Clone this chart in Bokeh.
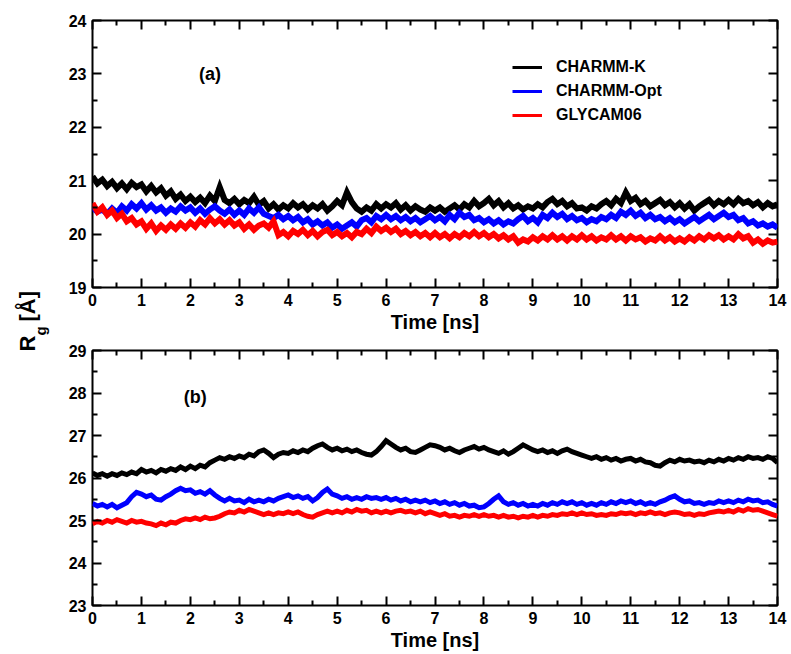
import numpy as np
from bokeh.plotting import figure
from bokeh.layouts import row, column
from bokeh.models import (LinearAxis, FixedTicker, Legend, LegendItem, Range1d,
                          ColumnDataSource, CustomLabelingPolicy)
from bokeh.core.properties import value
from bokeh.embed import file_html
from bokeh.resources import INLINE

# ---------------- data (0.1 ns steps) ----------------
series_names = ["CHARMM-K", "CHARMM-Opt", "GLYCAM06"]
series_colors = ["#000000", "#0000ff", "#ff0000"]
time_ns = [round(i * 0.1, 1) for i in range(141)]

a_charmm_k = [
    21.08, 20.95, 21.02, 20.90, 20.98, 20.86, 20.95, 20.84, 20.96, 20.88,
    20.93, 20.80, 20.90, 20.78, 20.86, 20.72, 20.80, 20.66, 20.74, 20.62,
    20.70, 20.60, 20.68, 20.58, 20.72, 20.62, 20.88, 20.64, 20.58, 20.66,
    20.56, 20.64, 20.58, 20.70, 20.55, 20.62, 20.48, 20.56, 20.46, 20.54,
    20.48, 20.58, 20.50, 20.56, 20.46, 20.54, 20.48, 20.56, 20.44, 20.52,
    20.62, 20.54, 20.78, 20.60, 20.48, 20.42, 20.50, 20.44, 20.56, 20.48,
    20.56, 20.50, 20.58, 20.46, 20.54, 20.44, 20.52, 20.46, 20.42, 20.50,
    20.44, 20.50, 20.42, 20.48, 20.54, 20.46, 20.56, 20.50, 20.62, 20.52,
    20.58, 20.66, 20.54, 20.62, 20.50, 20.58, 20.48, 20.54, 20.46, 20.52,
    20.48, 20.56, 20.50, 20.60, 20.66, 20.56, 20.62, 20.52, 20.58, 20.48,
    20.50, 20.44, 20.52, 20.48, 20.56, 20.62, 20.54, 20.66, 20.58, 20.78,
    20.62, 20.68, 20.56, 20.62, 20.52, 20.58, 20.64, 20.54, 20.60, 20.50,
    20.58, 20.48, 20.56, 20.44, 20.52, 20.58, 20.64, 20.54, 20.62, 20.56,
    20.64, 20.56, 20.66, 20.58, 20.62, 20.54, 20.60, 20.50, 20.58, 20.52,
    20.56]
a_charmm_opt = [
    20.50, 20.42, 20.46, 20.38, 20.48, 20.40, 20.52, 20.44, 20.56, 20.48,
    20.58, 20.46, 20.54, 20.44, 20.50, 20.40, 20.48, 20.42, 20.52, 20.44,
    20.50, 20.40, 20.48, 20.38, 20.46, 20.52, 20.44, 20.38, 20.46, 20.36,
    20.44, 20.36, 20.48, 20.40, 20.50, 20.38, 20.34, 20.30, 20.36, 20.28,
    20.34, 20.26, 20.32, 20.22, 20.28, 20.18, 20.24, 20.16, 20.22, 20.12,
    20.18, 20.10, 20.16, 20.22, 20.14, 20.26, 20.30, 20.22, 20.34, 20.28,
    20.36, 20.28, 20.34, 20.26, 20.32, 20.24, 20.30, 20.22, 20.28, 20.34,
    20.26, 20.32, 20.24, 20.36, 20.28, 20.40, 20.32, 20.36, 20.26, 20.30,
    20.22, 20.28, 20.20, 20.26, 20.18, 20.24, 20.20, 20.28, 20.34, 20.24,
    20.30, 20.22, 20.36, 20.30, 20.40, 20.32, 20.38, 20.28, 20.34, 20.26,
    20.30, 20.22, 20.28, 20.24, 20.32, 20.28, 20.36, 20.30, 20.42, 20.36,
    20.44, 20.34, 20.40, 20.30, 20.36, 20.28, 20.32, 20.24, 20.30, 20.22,
    20.28, 20.20, 20.26, 20.32, 20.24, 20.30, 20.36, 20.28, 20.34, 20.40,
    20.32, 20.36, 20.26, 20.30, 20.20, 20.24, 20.16, 20.20, 20.14, 20.18,
    20.12]
a_glycam06 = [
    20.58, 20.42, 20.50, 20.36, 20.44, 20.30, 20.38, 20.24, 20.30, 20.18,
    20.24, 20.10, 20.20, 20.06, 20.16, 20.08, 20.18, 20.10, 20.20, 20.12,
    20.22, 20.14, 20.26, 20.18, 20.30, 20.20, 20.28, 20.18, 20.26, 20.16,
    20.22, 20.10, 20.18, 20.08, 20.16, 20.20, 20.12, 20.24, 19.98, 20.04,
    19.96, 20.06, 20.00, 20.08, 19.98, 20.06, 19.96, 20.04, 20.08, 19.98,
    20.04, 19.96, 20.02, 19.94, 20.04, 20.00, 20.10, 20.02, 20.14, 20.06,
    20.12, 20.04, 20.10, 20.00, 20.06, 19.98, 20.04, 19.96, 20.02, 19.94,
    20.02, 19.94, 20.00, 19.92, 20.00, 19.94, 20.02, 19.96, 20.04, 19.96,
    20.02, 19.94, 20.00, 19.92, 19.98, 19.90, 19.96, 19.84, 19.90, 19.86,
    19.94, 19.88, 19.96, 19.90, 19.98, 19.90, 19.96, 19.88, 19.96, 19.90,
    19.98, 19.90, 19.96, 19.88, 19.94, 19.90, 19.98, 19.90, 19.96, 19.88,
    19.96, 19.90, 19.94, 19.86, 19.92, 19.88, 19.96, 19.88, 19.94, 19.86,
    19.92, 19.86, 19.94, 19.88, 19.96, 19.90, 19.98, 19.92, 19.98, 19.90,
    19.96, 19.90, 20.00, 19.92, 19.96, 19.84, 19.90, 19.82, 19.88, 19.84,
    19.86]

b_charmm_k = [
    26.12, 26.06, 26.10, 26.04, 26.10, 26.06, 26.12, 26.08, 26.14, 26.10,
    26.20, 26.14, 26.18, 26.12, 26.20, 26.16, 26.22, 26.18, 26.26, 26.20,
    26.28, 26.22, 26.30, 26.26, 26.36, 26.42, 26.48, 26.44, 26.50, 26.46,
    26.52, 26.48, 26.56, 26.52, 26.62, 26.66, 26.58, 26.48, 26.56, 26.60,
    26.58, 26.64, 26.60, 26.66, 26.62, 26.70, 26.76, 26.80, 26.72, 26.66,
    26.70, 26.64, 26.68, 26.62, 26.66, 26.60, 26.56, 26.54, 26.62, 26.74,
    26.88, 26.80, 26.72, 26.66, 26.70, 26.62, 26.60, 26.66, 26.72, 26.78,
    26.76, 26.72, 26.66, 26.70, 26.64, 26.60, 26.66, 26.70, 26.74, 26.68,
    26.72, 26.66, 26.62, 26.58, 26.64, 26.56, 26.62, 26.70, 26.78, 26.72,
    26.66, 26.62, 26.66, 26.60, 26.64, 26.58, 26.64, 26.68, 26.62, 26.58,
    26.54, 26.50, 26.46, 26.50, 26.44, 26.48, 26.42, 26.46, 26.40, 26.44,
    26.46, 26.40, 26.44, 26.38, 26.36, 26.30, 26.28, 26.36, 26.42, 26.38,
    26.44, 26.40, 26.42, 26.38, 26.40, 26.36, 26.42, 26.38, 26.44, 26.40,
    26.46, 26.42, 26.48, 26.44, 26.50, 26.46, 26.48, 26.44, 26.50, 26.46,
    26.36]
b_charmm_opt = [
    25.40, 25.34, 25.38, 25.32, 25.38, 25.30, 25.36, 25.42, 25.56, 25.66,
    25.62, 25.56, 25.60, 25.50, 25.48, 25.56, 25.62, 25.70, 25.76, 25.70,
    25.72, 25.64, 25.68, 25.62, 25.70, 25.60, 25.52, 25.46, 25.52, 25.46,
    25.48, 25.42, 25.50, 25.44, 25.48, 25.44, 25.50, 25.46, 25.52, 25.56,
    25.60, 25.54, 25.58, 25.52, 25.56, 25.46, 25.54, 25.66, 25.74, 25.62,
    25.58, 25.52, 25.56, 25.50, 25.54, 25.50, 25.56, 25.52, 25.54, 25.50,
    25.54, 25.48, 25.52, 25.46, 25.50, 25.44, 25.48, 25.44, 25.48, 25.42,
    25.46, 25.40, 25.44, 25.38, 25.42, 25.36, 25.40, 25.34, 25.36, 25.30,
    25.32, 25.40, 25.50, 25.58, 25.44, 25.38, 25.42, 25.36, 25.40, 25.34,
    25.38, 25.34, 25.40, 25.36, 25.42, 25.38, 25.44, 25.40, 25.44, 25.38,
    25.42, 25.36, 25.40, 25.36, 25.42, 25.38, 25.44, 25.40, 25.46, 25.42,
    25.46, 25.40, 25.44, 25.38, 25.42, 25.38, 25.44, 25.48, 25.54, 25.58,
    25.50, 25.44, 25.46, 25.40, 25.42, 25.38, 25.42, 25.40, 25.46, 25.42,
    25.46, 25.42, 25.48, 25.44, 25.50, 25.46, 25.48, 25.42, 25.44, 25.38,
    25.34]
b_glycam06 = [
    24.92, 24.98, 24.94, 25.00, 24.96, 25.02, 24.98, 24.94, 25.00, 24.96,
    24.98, 24.94, 24.92, 24.88, 24.94, 24.90, 24.96, 24.94, 25.00, 25.04,
    25.02, 25.06, 25.02, 25.08, 25.04, 25.06, 25.10, 25.16, 25.20, 25.18,
    25.24, 25.20, 25.26, 25.22, 25.18, 25.14, 25.18, 25.14, 25.18, 25.16,
    25.20, 25.16, 25.20, 25.14, 25.10, 25.08, 25.14, 25.18, 25.22, 25.18,
    25.22, 25.18, 25.24, 25.20, 25.26, 25.22, 25.24, 25.18, 25.22, 25.18,
    25.22, 25.18, 25.22, 25.24, 25.20, 25.22, 25.18, 25.22, 25.16, 25.20,
    25.16, 25.12, 25.16, 25.10, 25.12, 25.08, 25.12, 25.10, 25.14, 25.10,
    25.14, 25.10, 25.12, 25.08, 25.12, 25.08, 25.10, 25.06, 25.10, 25.08,
    25.12, 25.08, 25.12, 25.10, 25.14, 25.12, 25.16, 25.14, 25.18, 25.14,
    25.18, 25.14, 25.16, 25.12, 25.14, 25.12, 25.16, 25.14, 25.18, 25.16,
    25.18, 25.14, 25.18, 25.16, 25.20, 25.16, 25.18, 25.14, 25.18, 25.20,
    25.18, 25.14, 25.16, 25.12, 25.16, 25.14, 25.18, 25.20, 25.22, 25.20,
    25.24, 25.20, 25.26, 25.22, 25.28, 25.24, 25.26, 25.22, 25.18, 25.14,
    25.10]

x_ticks = list(range(0, 15))
a_y_ticks = [19, 20, 21, 22, 23, 24]
b_y_ticks = [23, 24, 25, 26, 27, 28, 29]
x_label = "Time [ns]"
panel_labels = ["(a)", "(b)"]

FONT = "Liberation Sans"

hide_all = CustomLabelingPolicy(code="""
for (const i of Array.from(indices)) { indices.unset(i) }
return indices
""")


def halves(lo, hi):
    return [lo + 0.5 + k for k in range(int(hi - lo))]


def style_axis(ax, ticks, minor, show_labels, size="16px"):
    ax.ticker = FixedTicker(ticks=ticks, minor_ticks=minor)
    ax.axis_line_color = None
    ax.major_tick_in = 9
    ax.major_tick_out = 0
    ax.minor_tick_in = 5
    ax.minor_tick_out = 0
    ax.major_tick_line_width = 2
    ax.minor_tick_line_width = 2
    ax.major_tick_line_color = "black"
    ax.minor_tick_line_color = "black"
    ax.major_label_text_font = FONT
    ax.major_label_text_font_style = "bold"
    ax.major_label_text_color = "black"
    ax.major_label_text_font_size = size
    if not show_labels:
        ax.major_label_policy = hide_all
        ax.major_label_standoff = 0


def make_panel(ys, yr, yticks, label, label_pos, top_border, bottom_border, frame_h, lw):
    p = figure(frame_width=685, frame_height=frame_h,
               min_border_left=37, min_border_right=14,
               min_border_top=top_border, min_border_bottom=bottom_border,
               x_range=Range1d(0, 14), y_range=Range1d(*yr),
               output_backend="svg", toolbar_location=None,
               x_axis_location=None, y_axis_location=None)
    p.grid.visible = False
    p.outline_line_color = "black"
    p.outline_line_width = 2
    p.background_fill_color = "white"
    p.border_fill_color = "white"

    xmin = halves(0, 14)
    ymin = halves(yr[0], yr[1])
    xb = LinearAxis()
    style_axis(xb, x_ticks, xmin, True)
    xb.major_label_standoff = 6
    xb.axis_label = x_label
    xb.axis_label_text_font = FONT
    xb.axis_label_text_font_style = "bold"
    xb.axis_label_text_font_size = "20px"
    xb.axis_label_text_color = "black"
    xb.axis_label_standoff = 2
    p.add_layout(xb, "below")
    xt = LinearAxis()
    style_axis(xt, x_ticks, xmin, False)
    p.add_layout(xt, "above")
    yl = LinearAxis()
    style_axis(yl, yticks, ymin, True)
    yl.major_label_standoff = 6
    p.add_layout(yl, "left")
    yrr = LinearAxis()
    style_axis(yrr, yticks, ymin, False)
    p.add_layout(yrr, "right")

    for name, color, yv in zip(series_names, series_colors, ys):
        src = ColumnDataSource(dict(t=time_ns, r=yv))
        p.line("t", "r", source=src, line_color=color, line_width=lw,
               line_join="miter")

    p.text(x=[label_pos[0]], y=[label_pos[1]], text=[label],
           text_font=value(FONT), text_font_style="bold",
           text_font_size="18px", text_align="center",
           text_baseline="middle", text_color="black")
    return p


pa = make_panel([a_charmm_k, a_charmm_opt, a_glycam06], (19, 24), a_y_ticks,
                panel_labels[0], (2.4, 23.0), 20, 48, 267, 6)
pb = make_panel([b_charmm_k, b_charmm_opt, b_glycam06], (23, 29), b_y_ticks,
                panel_labels[1], (2.1, 27.9), 13, 51, 255, 5)

# legend swatches: thin-line proxies kept off-frame (clipped), only used for the legend
proxy_x = [-10, -9]
proxy_y = [0, 0]
leg_r = [pa.line(x=proxy_x, y=proxy_y, line_color=c, line_width=3) for c in series_colors]
legend = Legend(items=[LegendItem(label=n, renderers=[r]) for n, r in zip(series_names, leg_r)],
                location=(420, 160), orientation="vertical",
                border_line_color=None, background_fill_alpha=0,
                padding=0, spacing=0, margin=0,
                glyph_width=30, glyph_height=24, label_height=24,
                label_standoff=14,
                label_text_font=FONT, label_text_font_style="bold",
                label_text_font_size="16px", label_text_color="black")
pa.add_layout(legend, "center")

# left strip carrying the shared y-axis title  R_g [Å]
strip = figure(width=55, height=654, x_range=Range1d(0, 55), y_range=Range1d(0, 654),
               output_backend="svg", toolbar_location=None,
               x_axis_location=None, y_axis_location=None,
               min_border=0, outline_line_color=None)
strip.grid.visible = False
ang = np.pi / 2
strip.text(x=[27], y=[654 - 351], text=["R"], angle=ang, text_font=value(FONT),
           text_font_style="bold", text_font_size="22px", text_align="left",
           text_baseline="middle", text_color="black")
strip.text(x=[40], y=[654 - 335], text=["g"], angle=ang, text_font=value(FONT),
           text_font_style="bold", text_font_size="15px", text_align="left",
           text_baseline="middle", text_color="black")
strip.text(x=[27], y=[654 - 321], text=["[Å]"], angle=ang, text_font=value(FONT),
           text_font_style="bold", text_font_size="22px", text_align="left",
           text_baseline="middle", text_color="black")

layout = row(strip, column(pa, pb, spacing=0), spacing=0)
open("out.html", "w").write(file_html(layout, INLINE))
